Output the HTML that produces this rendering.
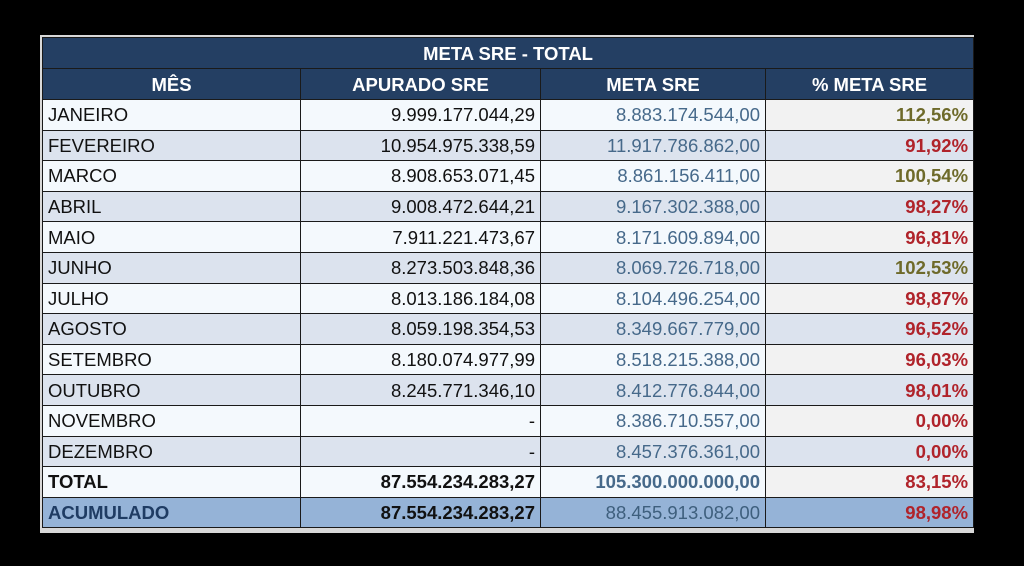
<!DOCTYPE html>
<html><head><meta charset="utf-8"><style>
html,body{margin:0;padding:0;background:#000;width:1024px;height:566px;overflow:hidden}
.wrap{position:absolute;left:40px;top:35px;width:934px;height:498px;background:#d8d8d8;}
table{position:absolute;left:2px;top:2px;border-collapse:collapse;width:931px;table-layout:fixed;font-family:"Liberation Sans",sans-serif;font-size:18.5px;color:#111}
td{height:29.6px;border:1px solid #1a1a1a;padding:0 5px;white-space:nowrap;overflow:hidden;line-height:29px}
.t td{background:#243f63;color:#fff;font-weight:bold;text-align:center;height:30px}
.h td{background:#243f63;color:#fff;font-weight:bold;text-align:center;height:30px}
td.n{text-align:right}
td.m{text-align:right;color:#46698a}
td.p{text-align:right;font-weight:bold;color:#b0232a}
td.g{color:#6e6a2a}
tr.o td{background:#f4f9fd}
tr.o td.p{background:#f2f2f2}
tr.e td{background:#dce3ee}
tr.tot td{background:#f4f9fd;font-weight:bold}
tr.tot td.m{color:#46698a}
tr.tot td.p{background:#f2f2f2}
tr.acc td{background:#95b3d7;font-weight:bold}
tr.acc td.m{font-weight:normal;color:#3e5f7d}
tr.acc td:first-child{color:#1f3c63}
</style></head><body>
<div class="wrap">
<table>
<colgroup><col style="width:258px"><col style="width:240px"><col style="width:225px"><col style="width:208px"></colgroup>
<tr class="t"><td colspan="4">META SRE - TOTAL</td></tr>
<tr class="h"><td>MÊS</td><td>APURADO SRE</td><td>META SRE</td><td>% META SRE</td></tr>
<tr class="o"><td>JANEIRO</td><td class="n">9.999.177.044,29</td><td class="m">8.883.174.544,00</td><td class="p g">112,56%</td></tr>
<tr class="e"><td>FEVEREIRO</td><td class="n">10.954.975.338,59</td><td class="m">11.917.786.862,00</td><td class="p">91,92%</td></tr>
<tr class="o"><td>MARCO</td><td class="n">8.908.653.071,45</td><td class="m">8.861.156.411,00</td><td class="p g">100,54%</td></tr>
<tr class="e"><td>ABRIL</td><td class="n">9.008.472.644,21</td><td class="m">9.167.302.388,00</td><td class="p">98,27%</td></tr>
<tr class="o"><td>MAIO</td><td class="n">7.911.221.473,67</td><td class="m">8.171.609.894,00</td><td class="p">96,81%</td></tr>
<tr class="e"><td>JUNHO</td><td class="n">8.273.503.848,36</td><td class="m">8.069.726.718,00</td><td class="p g">102,53%</td></tr>
<tr class="o"><td>JULHO</td><td class="n">8.013.186.184,08</td><td class="m">8.104.496.254,00</td><td class="p">98,87%</td></tr>
<tr class="e"><td>AGOSTO</td><td class="n">8.059.198.354,53</td><td class="m">8.349.667.779,00</td><td class="p">96,52%</td></tr>
<tr class="o"><td>SETEMBRO</td><td class="n">8.180.074.977,99</td><td class="m">8.518.215.388,00</td><td class="p">96,03%</td></tr>
<tr class="e"><td>OUTUBRO</td><td class="n">8.245.771.346,10</td><td class="m">8.412.776.844,00</td><td class="p">98,01%</td></tr>
<tr class="o"><td>NOVEMBRO</td><td class="n">-</td><td class="m">8.386.710.557,00</td><td class="p">0,00%</td></tr>
<tr class="e"><td>DEZEMBRO</td><td class="n">-</td><td class="m">8.457.376.361,00</td><td class="p">0,00%</td></tr>
<tr class="tot"><td>TOTAL</td><td class="n">87.554.234.283,27</td><td class="m">105.300.000.000,00</td><td class="p">83,15%</td></tr>
<tr class="acc"><td>ACUMULADO</td><td class="n">87.554.234.283,27</td><td class="m">88.455.913.082,00</td><td class="p">98,98%</td></tr>
</table>
</div>
</body></html>
